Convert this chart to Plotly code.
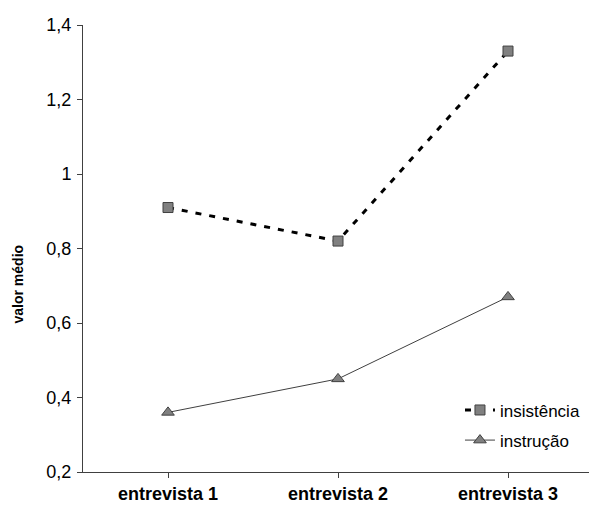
import plotly.graph_objects as go

# Survey rounds and mean values per strategy
entrevistas = ["entrevista 1", "entrevista 2", "entrevista 3"]
insistencia = [0.91, 0.82, 1.33]
instrucao = [0.36, 0.45, 0.67]

FONT = "Liberation Sans, Arial, sans-serif"

fig = go.Figure()

fig.add_trace(go.Scatter(
    x=[0, 1, 2], y=insistencia, name="insistência",
    mode="lines+markers", legendgroup="a",
    line=dict(color="black", width=3, dash="6px,8px"),
    marker=dict(symbol="square", size=10, color="#808080",
                line=dict(color="#404040", width=1)),
))
fig.add_trace(go.Scatter(
    x=[0, 1, 2], y=instrucao, name="instrução",
    mode="lines+markers", legendgroup="b",
    line=dict(color="#404040", width=1),
    marker=dict(symbol="triangle-up", size=11, color="#808080",
                line=dict(color="#404040", width=1)),
))

# Axis title, placed a little below the vertical centre of the plot
fig.add_annotation(
    text="<b>valor médio</b>", textangle=-90,
    xref="paper", yref="paper", x=-0.128, y=0.42,
    xanchor="center", yanchor="middle", showarrow=False,
    font=dict(family=FONT, size=14, color="black"),
)

fig.update_layout(
    width=589, height=508,
    margin=dict(l=83, r=0, t=25, b=36),
    paper_bgcolor="white", plot_bgcolor="white",
    font=dict(family=FONT, size=18, color="black"),
    showlegend=True,
    legend=dict(x=0.745, y=0.178, xanchor="left", yanchor="top",
                bgcolor="rgba(0,0,0,0)", tracegroupgap=5,
                traceorder="grouped", font=dict(size=17)),
    xaxis=dict(
        range=[-0.5, 2.5 - 4 / 170],
        tickmode="array", tickvals=[0, 1, 2], ticktext=entrevistas,
        tickson="boundaries", ticks="outside", ticklen=5,
        tickcolor="#404040",
        showline=True, linecolor="#404040", linewidth=1,
        showgrid=False, zeroline=False,
        tickfont=dict(family=FONT, size=18, color="black", weight="bold"),
        fixedrange=True,
    ),
    yaxis=dict(
        range=[0.2, 1.4], tickvals=[0.2, 0.4, 0.6, 0.8, 1.0, 1.2, 1.4],
        ticktext=["0,2", "0,4", "0,6", "0,8", "1", "1,2", "1,4"],
        ticks="outside", ticklen=5, tickcolor="#404040",
        ticklabelstandoff=2,
        showline=True, linecolor="#404040", linewidth=1,
        showgrid=False, zeroline=False,
        tickfont=dict(family=FONT, size=18, color="black"),
        automargin=False,
        fixedrange=True,
    ),
)

fig.write_html("out.html")
